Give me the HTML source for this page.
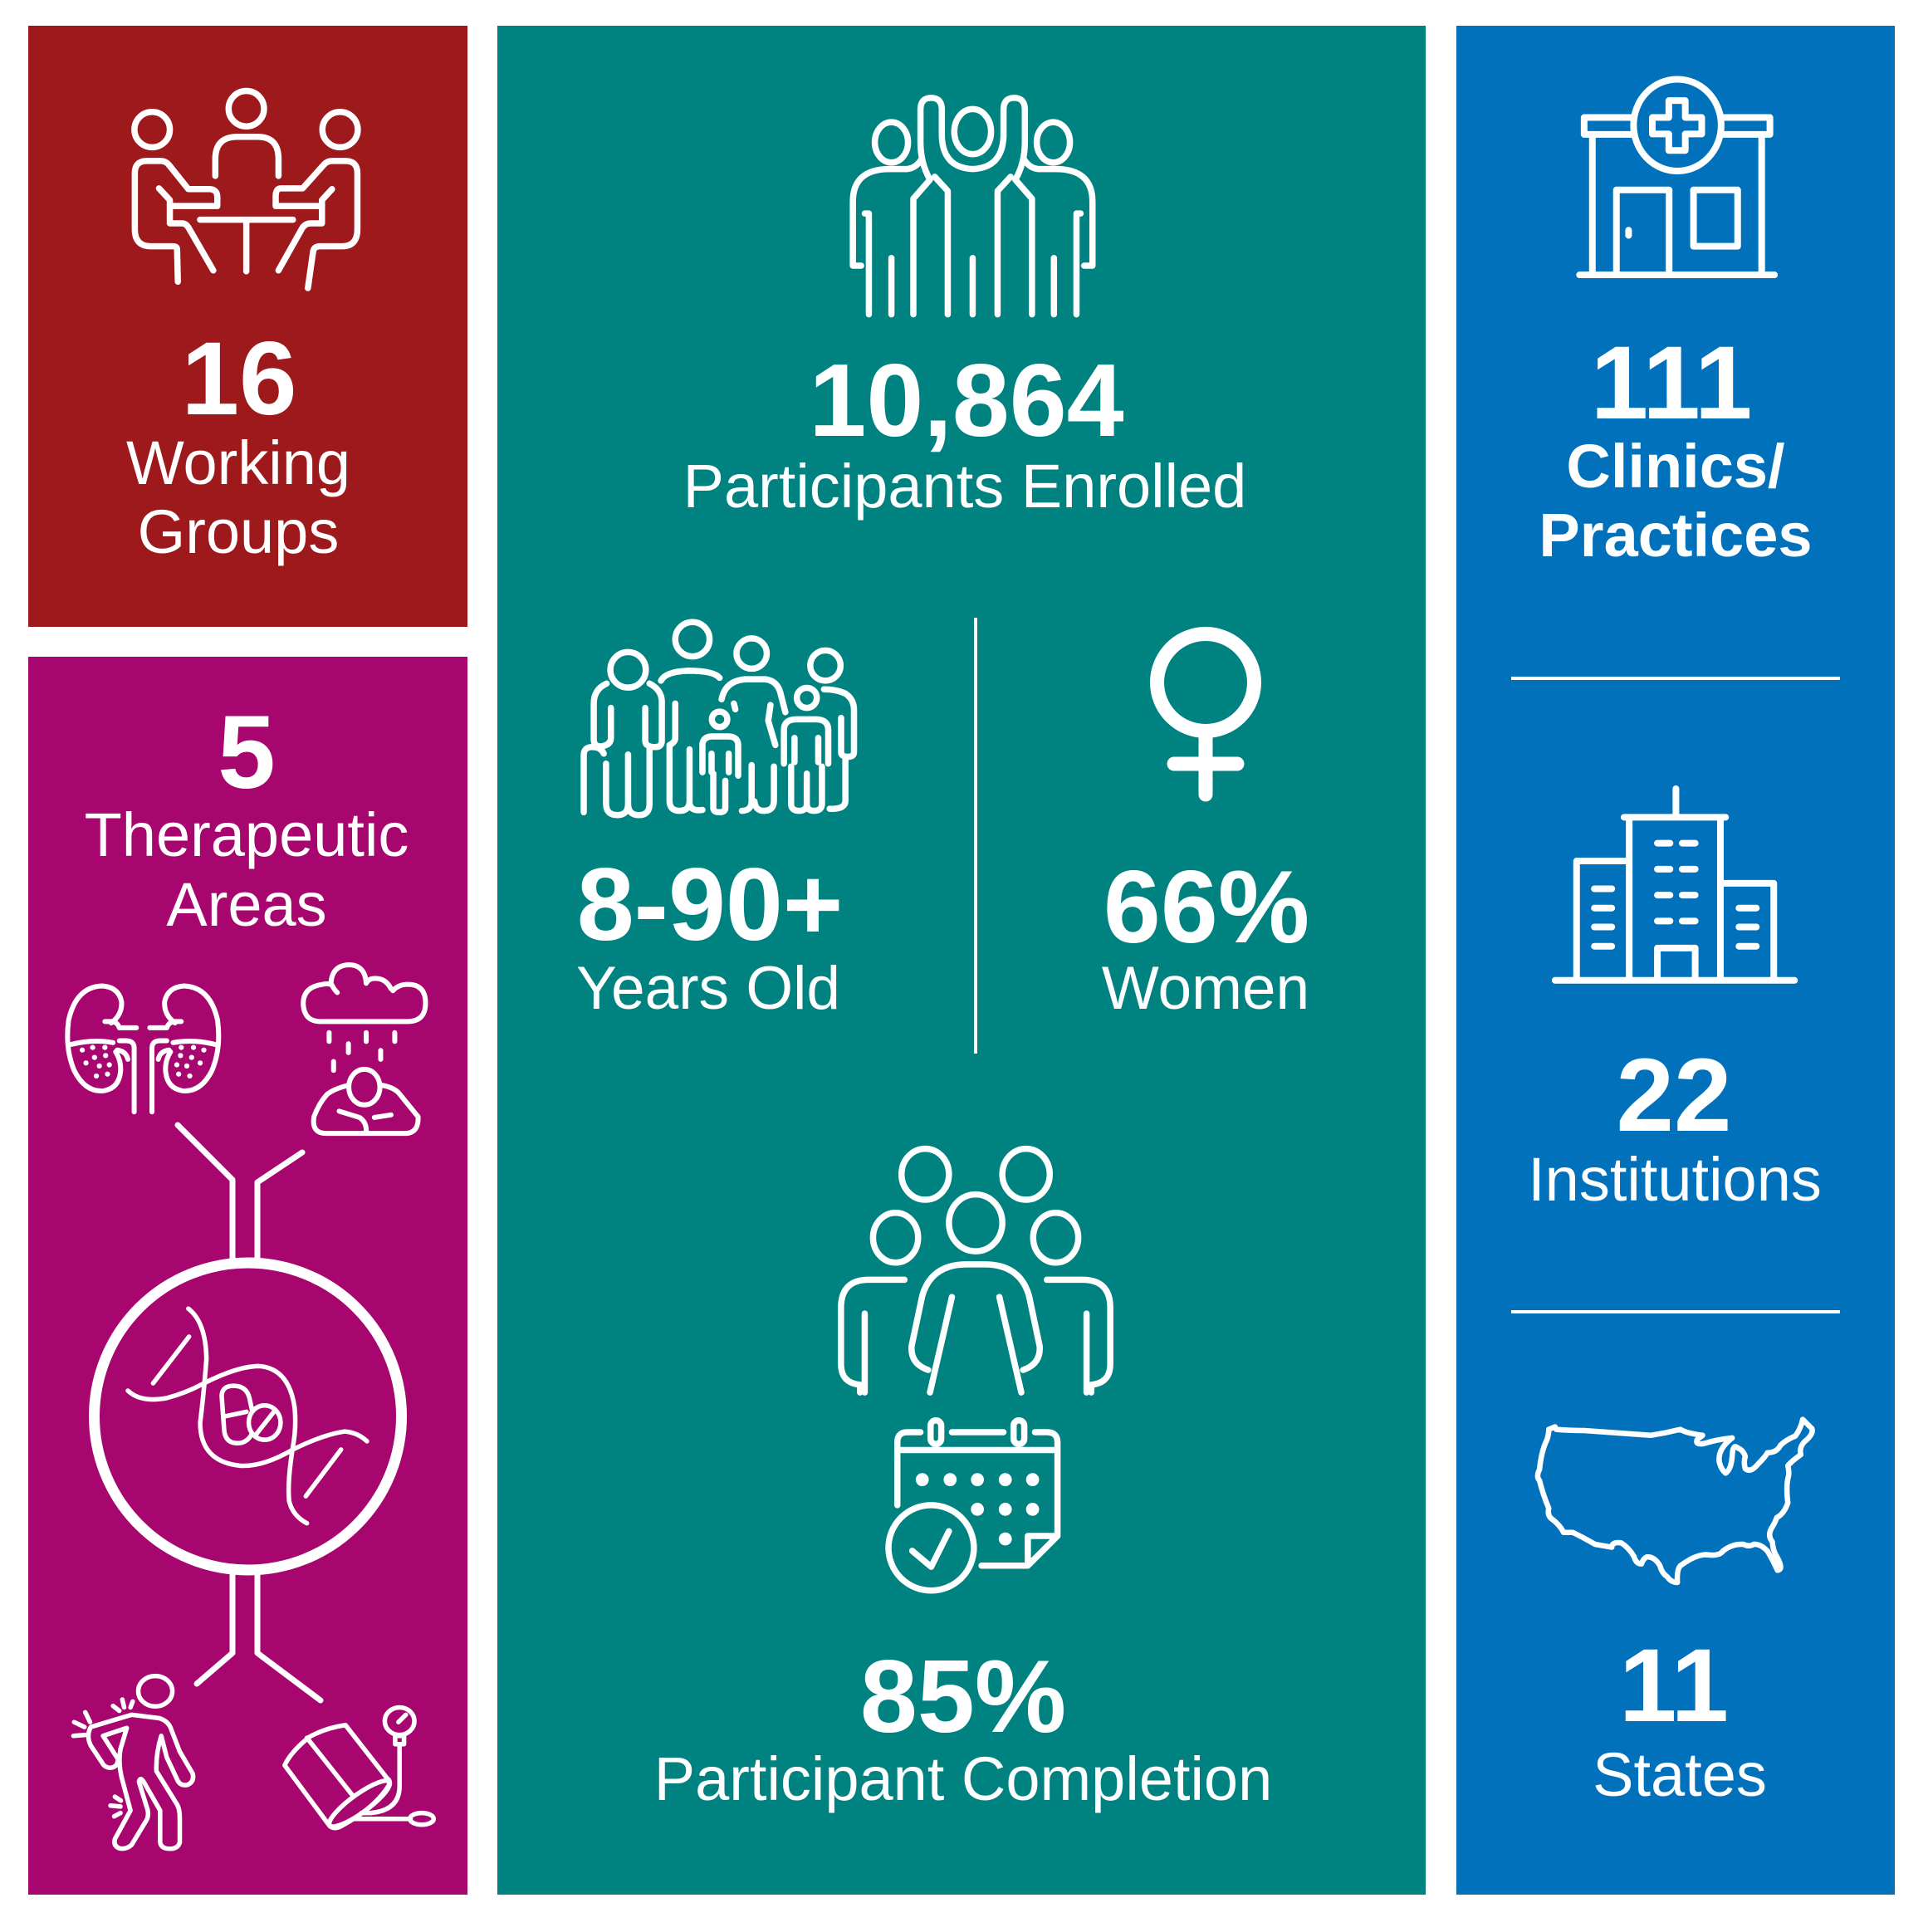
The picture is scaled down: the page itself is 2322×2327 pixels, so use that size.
<!DOCTYPE html>
<html>
<head>
<meta charset="utf-8">
<style>
html,body{margin:0;padding:0;background:#fff;}
svg{display:block;}
.ic *{vector-effect:non-scaling-stroke;fill:none;stroke:#fff;stroke-linecap:round;stroke-linejoin:round;}
.ic .d{fill:#fff;stroke:none;}
text{font-family:"Liberation Sans",Arial,sans-serif;fill:#fff;text-anchor:middle;}
.b{font-weight:bold;}
</style>
</head>
<body>
<svg width="2322" height="2327" viewBox="0 0 2322 2327" xmlns="http://www.w3.org/2000/svg">
<rect x="0" y="0" width="2322" height="2327" fill="#fff"/>
<!-- panels -->
<rect x="34" y="31" width="529" height="724" fill="#9D191C"/>
<rect x="34" y="791" width="529" height="1491" fill="#A8066F"/>
<rect x="599" y="31" width="1118" height="2251" fill="#008380"/>
<rect x="1754" y="31" width="528" height="2251" fill="#0171BB"/>

<!-- ===== RED: meeting icon ===== -->
<g class="ic" transform="scale(0.4847)">
  <ellipse cx="612" cy="270" rx="44" ry="44" stroke-width="7.5"/>
  <ellipse cx="378" cy="322" rx="44" ry="44" stroke-width="7.5"/>
  <ellipse cx="845" cy="322" rx="44" ry="44" stroke-width="7.5"/>
  <path d="M535,437 V395 Q535,340 590,340 H640 Q692,340 692,395 V437" stroke-width="7.5"/>
  <path d="M497,546 H728 M612,546 V674" stroke-width="7.5"/>
  <path d="M442,700 L440,620 Q440,612 430,612 H375 Q335,612 335,570 V430 Q335,400 365,400 H400 Q412,400 420,410 L468,470 H520 Q540,470 540,490 V512 H430" stroke-width="7.5"/>
  <path d="M395,468 L422,497 V555 H452 Q462,555 468,565 L530,672" stroke-width="7.5"/>
  <path d="M765,716 L778,625 Q780,612 795,612 H850 Q888,612 888,570 V430 Q888,400 858,400 H825 Q812,400 804,410 L752,468 H698 Q685,468 685,488 V512 H795" stroke-width="7.5"/>
  <path d="M825,470 L800,497 V555 H772 Q760,555 752,565 L692,672" stroke-width="7.5"/>
</g>
<text class="b" x="288" y="499" font-size="125">16</text>
<text x="287" y="583" font-size="74">Working</text>
<text x="287" y="666" font-size="74">Groups</text>

<!-- ===== MAGENTA ===== -->
<text class="b" x="297" y="949" font-size="125">5</text>
<text x="297" y="1031" font-size="74">Therapeutic</text>
<text x="297" y="1115" font-size="74">Areas</text>

<!-- kidneys + depression (zoom3 coords) -->
<g class="ic" transform="translate(0,700) scale(0.4464)">
  <g>
    <path d="M300,1192 Q330,1170 328,1135 Q320,1095 275,1092 Q205,1095 185,1185 Q175,1260 200,1320 Q230,1380 280,1375 Q320,1368 325,1325 Q328,1295 312,1270" stroke-width="6"/>
    <path d="M192,1250 Q250,1235 305,1245" stroke-width="6"/>
    <path d="M283,1188 H305 Q318,1192 322,1205 H368 M322,1240 H340 Q362,1240 362,1260 V1432 M316,1265 Q340,1268 345,1290" stroke-width="6"/>
    <circle class="d" cx="222" cy="1265" r="7"/><circle class="d" cx="250" cy="1258" r="7"/>
    <circle class="d" cx="283" cy="1258" r="7"/><circle class="d" cx="255" cy="1285" r="7"/>
    <circle class="d" cx="285" cy="1280" r="7"/><circle class="d" cx="232" cy="1300" r="7"/>
    <circle class="d" cx="268" cy="1308" r="7"/><circle class="d" cx="295" cy="1305" r="7"/>
    <circle class="d" cx="260" cy="1335" r="7"/><circle class="d" cx="290" cy="1330" r="7"/>
  </g>
  <g transform="translate(772,0) scale(-1,1)">
    <path d="M300,1192 Q330,1170 328,1135 Q320,1095 275,1092 Q205,1095 185,1185 Q175,1260 200,1320 Q230,1380 280,1375 Q320,1368 325,1325 Q328,1295 312,1270" stroke-width="6"/>
    <path d="M192,1250 Q250,1235 305,1245" stroke-width="6"/>
    <path d="M283,1188 H305 Q318,1192 322,1205 H368 M322,1240 H340 Q362,1240 362,1260 V1432 M316,1265 Q340,1268 345,1290" stroke-width="6"/>
    <circle class="d" cx="222" cy="1265" r="7"/><circle class="d" cx="250" cy="1258" r="7"/>
    <circle class="d" cx="283" cy="1258" r="7"/><circle class="d" cx="255" cy="1285" r="7"/>
    <circle class="d" cx="285" cy="1280" r="7"/><circle class="d" cx="232" cy="1300" r="7"/>
    <circle class="d" cx="268" cy="1308" r="7"/><circle class="d" cx="295" cy="1305" r="7"/>
    <circle class="d" cx="260" cy="1335" r="7"/><circle class="d" cx="290" cy="1330" r="7"/>
  </g>
  <!-- cloud -->
  <path d="M865,1188 H1100 Q1148,1188 1148,1138 Q1148,1088 1100,1088 Q1075,1088 1060,1105 M1055,1100 Q1040,1070 1010,1072 Q995,1072 988,1085 M988,1085 Q985,1035 940,1035 Q895,1038 893,1085 Q900,1100 910,1110 M893,1088 Q880,1085 870,1088 Q818,1095 818,1140 Q820,1188 865,1188" stroke-width="6"/>
  <path d="M888,1218 V1242 M940,1248 V1272 M988,1218 V1242 M1027,1266 V1290 M1065,1218 V1242 M900,1296 V1320" stroke-width="6"/>
  <ellipse cx="983" cy="1365" rx="42" ry="48" stroke-width="6"/>
  <path d="M940,1360 Q900,1370 882,1385 Q860,1410 847,1445 Q840,1490 880,1490 H1095 Q1130,1488 1128,1445 L1075,1380 Q1060,1365 1030,1360" stroke-width="6"/>
  <path d="M915,1430 L970,1447 Q990,1460 988,1488 M1010,1447 L1055,1440" stroke-width="6"/>
</g>

<!-- antibody lines & circle (original coords) -->
<g class="ic">
  <path d="M214,1355 L280,1421 V1517" stroke-width="7"/>
  <path d="M364,1388 L310,1424 V1517" stroke-width="7"/>
  <path d="M280,1896 V1991 L237,2028" stroke-width="7"/>
  <path d="M310,1896 V1991 L386,2048" stroke-width="7"/>
  <circle cx="298.5" cy="1706" r="185" stroke-width="13"/>
</g>

<!-- DNA, hurt person, BP cuff (zoom4 coords) -->
<g class="ic" transform="matrix(0.4464,0,0,0.5914,0,1400)">
  <path d="M345,465 Q380,490 450,480 Q500,470 545,452 Q640,415 700,415 Q780,420 795,500 Q800,540 790,580 Q775,650 780,690 Q790,720 828,735" stroke-width="5.5"/>
  <path d="M508,298 Q555,325 557,400 Q550,470 540,530 Q540,610 650,618 Q710,620 790,585 Q870,555 930,548 Q965,550 990,568" stroke-width="5.5"/>
  <path d="M413,450 L510,355 M825,680 L920,585" stroke-width="5.5"/>
  <path d="M598,475 Q600,455 630,455 Q665,455 673,480 L680,505 M598,475 L605,548 Q610,572 640,572 Q665,572 678,555 M603,518 L665,508" stroke-width="5.5"/>
  <ellipse cx="714" cy="530" rx="43" ry="35" stroke-width="5.5"/>
  <path d="M690,555 L742,505" stroke-width="5.5"/>
  <!-- hurt person -->
  <ellipse cx="419" cy="1077" rx="46" ry="31" stroke-width="5.5"/>
  <path d="M245,1150 L355,1125 L430,1132 Q455,1138 462,1155 L485,1200 L520,1245 Q525,1262 505,1268 Q488,1270 480,1260 L450,1212 L435,1168 Q420,1205 422,1240 L478,1308 Q485,1318 485,1335 V1385 Q480,1398 458,1398 Q435,1398 432,1385 V1320 L388,1262 Q378,1250 375,1262 L398,1318 Q402,1330 395,1340 L355,1390 Q340,1400 322,1397 Q305,1392 310,1378 L352,1320 L330,1258 Q318,1225 325,1195 L342,1152 L278,1168 L318,1215 Q318,1232 298,1233 Q282,1233 275,1222 L245,1188 Q232,1168 245,1150 Z" stroke-width="5.5"/>
  <path d="M200,1140 L228,1150 M198,1168 L230,1166 M230,1120 L243,1140 M305,1107 L322,1117 M330,1094 L335,1110 M352,1110 L358,1098 M298,1310 L325,1312 M310,1292 L326,1300 M308,1332 L325,1325" stroke-width="5.5"/>
  <!-- BP cuff -->
  <path d="M768,1228 L890,1352 Q905,1360 925,1350 Q1010,1315 1048,1270 Q1055,1260 1045,1255 L932,1146 Q878,1152 835,1170 Q785,1200 768,1228 Z" stroke-width="5.5"/>
  <path d="M828,1172 L952,1290" stroke-width="5.5"/>
  <ellipse cx="970" cy="1306" rx="92" ry="20" transform="rotate(-28 970 1306)" stroke-width="5.5"/>
  <ellipse cx="1078" cy="1138" rx="40" ry="28" stroke-width="5.5"/>
  <path d="M1075,1140 L1095,1125 M1066,1168 H1090 V1185 H1066 Z M1078,1185 V1270 Q1078,1320 1000,1325 H975 M955,1337 H1108" stroke-width="5.5"/>
  <ellipse cx="1138" cy="1337" rx="32" ry="12" stroke-width="5.5"/>
</g>

<!-- ===== TEAL ===== -->
<!-- people raising hands -->
<g class="ic" transform="translate(600,0) scale(0.7143)">
  <ellipse cx="663" cy="240" rx="28" ry="34" stroke-width="7.5"/>
  <ellipse cx="800" cy="222" rx="31" ry="38" stroke-width="7.5"/>
  <ellipse cx="936" cy="240" rx="28" ry="34" stroke-width="7.5"/>
  <path d="M700,530 V335 L728,303 Q712,275 712,240 V185 Q712,165 730,165 Q748,165 748,185 V230 Q750,283 800,285 Q850,283 852,230 V185 Q852,165 870,165 Q888,165 888,185 V240 Q888,275 872,303 L900,335 V530" stroke-width="7.5"/>
  <path d="M758,530 V322 L736,298 M842,530 V322 L864,298" stroke-width="7.5"/>
  <path d="M612,448 H598 V340 Q598,285 660,285 H690 Q705,283 714,268" stroke-width="7.5"/>
  <path d="M988,448 H1002 V340 Q1002,285 940,285 H910 Q895,283 886,268" stroke-width="7.5"/>
  <path d="M625,530 V360 H618 M975,530 V360 H982" stroke-width="7.5"/>
  <path d="M663,530 V435 M800,530 V435 M937,530 V435" stroke-width="7.5"/>
</g>
<text class="b" x="1164" y="525" font-size="124">10,864</text>
<text x="1162" y="611" font-size="74">Participants Enrolled</text>

<!-- family icon (zoom9 coords) -->
<g class="ic" transform="translate(660,720) scale(0.3444)">
  <circle cx="280" cy="252" r="62" stroke-width="7.5"/>
  <circle cx="505" cy="145" r="60" stroke-width="7.5"/>
  <circle cx="712" cy="195" r="53" stroke-width="7.5"/>
  <circle cx="970" cy="237" r="53" stroke-width="7.5"/>
  <circle cx="600" cy="425" r="27" stroke-width="7.5"/>
  <circle cx="905" cy="350" r="35" stroke-width="7.5"/>
  <!-- fig A -->
  <path d="M205,300 Q160,320 160,370 V495 Q160,520 185,520 Q220,515 220,490 V385" stroke-width="7.5"/>
  <path d="M355,300 Q395,320 398,360 V500 Q398,522 375,522 Q340,522 340,500 V385" stroke-width="7.5"/>
  <path d="M125,750 V550 Q125,522 155,522 Q185,522 195,545" stroke-width="7.5"/>
  <path d="M203,580 V720 Q203,760 242,760 Q280,760 280,720 V548 M280,720 Q280,760 318,760 Q355,760 355,720 V530" stroke-width="7.5"/>
  <!-- fig B -->
  <path d="M395,290 Q410,258 490,255 Q580,255 600,280" stroke-width="7.5"/>
  <path d="M445,370 V490 Q445,505 425,515 V710 Q425,745 460,745 Q495,745 495,710 V530 M495,720 Q500,748 540,742" stroke-width="7.5"/>
  <!-- fig C child -->
  <path d="M540,610 V510 Q545,485 575,485 H630 Q662,485 665,512 V622" stroke-width="7.5"/>
  <path d="M572,545 V610 M632,545 V610 M578,615 V735 Q578,750 598,750 Q620,750 620,735 V640" stroke-width="7.5"/>
  <!-- fig D -->
  <path d="M607,355 Q620,290 690,285 H760 Q800,290 812,330 L830,400 M650,370 L655,390 M778,375 L770,430 L795,515" stroke-width="7.5"/>
  <path d="M712,585 V710 Q712,745 678,745 M790,590 V710 Q790,745 755,745 Q725,745 722,712" stroke-width="7.5"/>
  <!-- fig E child -->
  <path d="M825,580 V462 Q825,425 870,425 H935 Q980,425 980,462 V580" stroke-width="7.5"/>
  <path d="M862,490 V575 M945,490 V575 M850,590 V720 Q850,745 878,745 Q905,745 905,720 V615 M905,720 Q905,745 930,745 Q958,745 958,720 V590" stroke-width="7.5"/>
  <!-- fig F -->
  <path d="M965,320 Q1010,320 1040,335 Q1070,355 1070,392 V540 Q1070,556 1050,556 Q1025,556 1025,540 V420" stroke-width="7.5"/>
  <path d="M1040,565 V710 Q1040,740 985,738" stroke-width="7.5"/>
</g>

<!-- divider -->
<rect x="1173" y="744" width="4" height="525" fill="#fff"/>

<!-- female symbol -->
<g class="ic">
  <circle cx="1452" cy="822" r="58.5" stroke-width="17"/>
  <path d="M1452,889 V957 M1414,920 H1490" stroke-width="17"/>
</g>
<text class="b" x="855" y="1132" font-size="124">8-90+</text>
<text x="853" y="1215" font-size="73">Years Old</text>
<text class="b" x="1453" y="1135" font-size="124">66%</text>
<text x="1452" y="1215" font-size="73">Women</text>

<!-- group + calendar (zoom8 coords) -->
<g class="ic" transform="translate(600,1200) scale(0.7143)">
  <ellipse cx="720" cy="300" rx="40" ry="43" stroke-width="7.5"/>
  <ellipse cx="890" cy="300" rx="40" ry="43" stroke-width="7.5"/>
  <ellipse cx="670" cy="407" rx="38" ry="42" stroke-width="7.5"/>
  <ellipse cx="940" cy="407" rx="38" ry="42" stroke-width="7.5"/>
  <ellipse cx="805" cy="382" rx="45" ry="48" stroke-width="7.5"/>
  <path d="M725,630 Q695,620 697,590 L715,505 Q730,452 790,452 H820 Q880,452 895,505 L913,590 Q915,620 885,630" stroke-width="7.5"/>
  <path d="M728,668 L765,507 M882,668 L845,507" stroke-width="7.5"/>
  <path d="M618,668 V535 M685,478 H625 Q578,478 578,525 V620 Q578,652 610,655 V668" stroke-width="7.5"/>
  <path d="M992,668 V535 M925,478 H985 Q1032,478 1032,525 V620 Q1032,652 1000,655 V668" stroke-width="7.5"/>
  <!-- calendar -->
  <path d="M673,858 V752 Q673,735 690,735 H712 M765,735 H852 M905,735 H925 Q943,735 943,752 V910 L893,960 H815 M680,765 H937 M943,910 H893 V960" stroke-width="7.5"/>
  <rect x="729" y="715" width="18" height="40" rx="9" stroke-width="7.5"/>
  <rect x="869" y="715" width="18" height="40" rx="9" stroke-width="7.5"/>
  <circle class="d" cx="715" cy="815" r="11"/><circle class="d" cx="762" cy="815" r="11"/>
  <circle class="d" cx="808" cy="815" r="11"/><circle class="d" cx="855" cy="815" r="11"/>
  <circle class="d" cx="901" cy="815" r="11"/><circle class="d" cx="808" cy="865" r="11"/>
  <circle class="d" cx="855" cy="865" r="11"/><circle class="d" cx="901" cy="865" r="11"/>
  <circle class="d" cx="855" cy="915" r="11"/>
  <circle cx="730" cy="930" r="72" stroke-width="7.5"/>
  <path d="M698,935 L730,962 L760,902" stroke-width="7.5"/>
</g>
<text class="b" x="1160" y="2086" font-size="124">85%</text>
<text x="1160" y="2168" font-size="74">Participant Completion</text>

<!-- ===== BLUE ===== -->
<!-- clinic (zoom12 coords) -->
<g class="ic" transform="matrix(0.3967,0,0,0.4847,1700,0)">
  <ellipse cx="807" cy="311" rx="133" ry="114" stroke-width="8"/>
  <path d="M781,250 H831 V292 H881 V333 H831 V374 H781 V333 H731 V292 H781 Z" stroke-width="8"/>
  <path d="M672,292 H524 V334 H672 M942,292 H1088 V334 H942" stroke-width="8"/>
  <path d="M549,334 V683 M1063,334 V683" stroke-width="8"/>
  <path d="M622,683 V472 H782 V683 M659,572 V585" stroke-width="8"/>
  <rect x="856" y="472" width="134" height="140" stroke-width="8"/>
  <path d="M510,683 H1102" stroke-width="8"/>
</g>
<text class="b" x="2013" y="504" font-size="125">111</text>
<text class="b" x="2018" y="587" font-size="74">Clinics/</text>
<text class="b" x="2018" y="670" font-size="74">Practices</text>

<rect x="1820" y="815" width="396" height="4" fill="#fff"/>
<rect x="1820" y="1578" width="396" height="4" fill="#fff"/>

<!-- buildings (zoom6 coords) -->
<g class="ic" transform="translate(1622,700) scale(0.4464)">
  <path d="M562,1077 H1208 M620,1077 V755 H762 M762,1077 V637 M1008,637 V1077 M748,637 H1022 M888,560 V630 M1008,815 H1152 V1077 M838,1077 V990 H940 V1077" stroke-width="8"/>
  <path d="M668,830 H715 M668,882 H715 M668,933 H715 M668,985 H715 M838,707 H872 M905,707 H940 M838,777 H872 M905,777 H940 M838,847 H872 M905,847 H940 M838,917 H872 M905,917 H940 M1058,882 H1105 M1058,933 H1105 M1058,985 H1105" stroke-width="8"/>
</g>
<text class="b" x="2016" y="1362" font-size="125">22</text>
<text x="2017" y="1446" font-size="74">Institutions</text>

<!-- USA map (zoom5 coords) -->
<g class="ic" transform="translate(1622,1627) scale(0.4464)">
  <path d="M562,205 L565,212 Q600,215 640,215 L820,228 Q860,222 900,212 Q915,222 960,228 L945,240 Q940,255 965,250 Q995,240 1040,235 Q1000,265 1005,300 Q1010,320 1022,330 Q1038,320 1040,280 Q1042,250 1055,262 Q1070,268 1075,285 Q1070,300 1075,318 Q1090,330 1110,305 Q1130,285 1135,275 Q1160,275 1170,255 Q1185,240 1210,230 Q1225,210 1230,185 Q1245,200 1255,210 Q1260,225 1235,245 Q1220,260 1225,280 Q1200,298 1190,310 Q1195,330 1190,345 Q1185,370 1190,410 Q1180,440 1160,450 Q1155,465 1145,480 Q1135,500 1148,515 Q1150,540 1160,555 Q1180,590 1162,592 Q1150,565 1135,540 Q1115,520 1098,522 Q1085,530 1070,522 Q1040,520 1015,540 Q1005,555 970,550 Q940,550 900,580 Q890,590 892,625 Q875,625 865,610 Q850,600 845,580 Q830,555 810,556 Q800,560 795,575 Q780,575 775,555 Q760,530 740,518 Q715,515 715,530 L670,522 Q640,505 610,490 L585,490 Q575,470 555,455 Q540,445 545,425 Q530,390 520,350 Q510,340 520,320 Q525,270 540,240 Q545,225 545,212 Z" stroke-width="6.5"/>
</g>
<text class="b" x="2016" y="2073" font-size="125">11</text>
<text x="2023" y="2163" font-size="74">States</text>
</svg>
</body>
</html>
